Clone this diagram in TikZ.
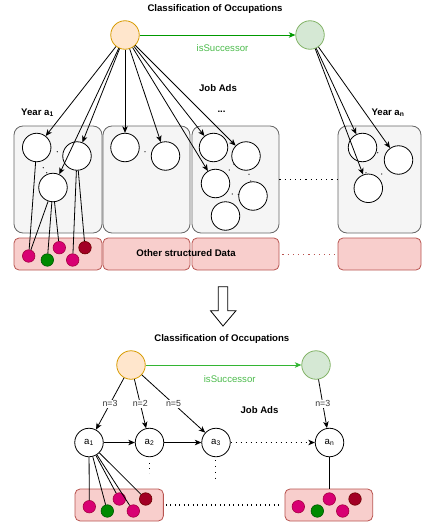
\documentclass[tikz,border=0pt]{standalone}
\usepackage{fontspec}
\setmainfont{Liberation Sans}
\usetikzlibrary{arrows.meta}
\definecolor{occfill}{HTML}{FFE6CC}
\definecolor{occdraw}{HTML}{D79B00}
\definecolor{sucfill}{HTML}{D5E8D4}
\definecolor{sucdraw}{HTML}{82B366}
\definecolor{gboxfill}{HTML}{F5F5F5}
\definecolor{gboxdraw}{HTML}{666666}
\definecolor{pboxfill}{HTML}{F8CECC}
\definecolor{pboxdraw}{HTML}{B85450}
\definecolor{magfill}{HTML}{D80073}
\definecolor{magdraw}{HTML}{A50040}
\definecolor{grnfill}{HTML}{008A00}
\definecolor{grndraw}{HTML}{005700}
\definecolor{drfill}{HTML}{A20025}
\definecolor{drdraw}{HTML}{6F0000}
\definecolor{arrowgreen}{HTML}{009900}
\definecolor{lightgreen}{HTML}{33B533}
\definecolor{textgreen}{HTML}{4CBB4C}
\definecolor{labelgray}{HTML}{333333}
\begin{document}
\begin{tikzpicture}[x=1pt,y=-1pt,
  font=\fontsize{9.6}{11}\selectfont,
  tip/.tip={Stealth[length=6.5pt,width=5.5pt,inset=1.8pt]},
  conn/.style={line width=0.8pt,draw=black},
  arr/.style={conn,-tip},
  occ/.style={circle,draw=occdraw,fill=occfill,line width=0.8pt,minimum size=28.5pt,inner sep=0pt},
  suc/.style={circle,draw=sucdraw,fill=sucfill,line width=0.8pt,minimum size=28.5pt,inner sep=0pt},
  ad/.style={circle,draw=black,fill=white,line width=0.8pt,minimum size=28.5pt,inner sep=0pt},
  gbox/.style={rectangle,rounded corners=9pt,draw=gboxdraw,fill=gboxfill,line width=0.8pt,minimum height=107pt,inner sep=0pt},
  pbox/.style={rectangle,rounded corners=5pt,draw=pboxdraw,fill=pboxfill,line width=0.8pt,minimum height=32pt,inner sep=0pt},
  dmag/.style={circle,draw=magdraw,fill=magfill,line width=0.6pt,minimum size=12.5pt,inner sep=0pt},
  dgrn/.style={circle,draw=grndraw,fill=grnfill,line width=0.6pt,minimum size=12.5pt,inner sep=0pt},
  ddr/.style={circle,draw=drdraw,fill=drfill,line width=0.6pt,minimum size=12.5pt,inner sep=0pt},
  bold/.style={font=\fontsize{9.6}{11}\selectfont\bfseries,inner sep=0pt},
  nlab/.style={midway,fill=white,inner sep=1pt,text=labelgray,font=\fontsize{8.8}{10}\selectfont},
  tinydot/.style={circle,fill=black,inner sep=0pt,minimum size=1.3pt},
  dotline/.style={line width=1.3pt,dash pattern=on 1.2pt off 4pt},
]
\useasboundingbox (0,0) rectangle (422,527);

% ---------------- top part ----------------
\node[bold] (t1) at (215,9) {Classification of Occupations};
\node[occ] (o1) at (125,35) {};
\node[suc] (g1) at (310,35) {};
\draw[line width=0.8pt,draw=arrowgreen,-{Stealth[length=6.5pt,width=5.5pt,inset=1.8pt,fill=arrowgreen]}] (o1) -- (g1);
\node[text=textgreen,inner sep=0pt] (s1) at (222.5,48.5) {isSuccessor};
\node[bold] (j1) at (218,88.5) {Job Ads};
\node[bold] (y1) at (37.5,112.5) {Year a\textsubscript{1}};
\node[bold] (yn) at (388,112.5) {Year a\textsubscript{n}};
\node[bold] (el) at (221.5,112) {...};

\node[gbox,minimum width=88pt] (b1) at (58,179.5) {};
\node[gbox,minimum width=87pt] (b2) at (146.5,179.5) {};
\node[gbox,minimum width=87pt] (b3) at (235.5,179.5) {};
\node[gbox,minimum width=83pt] (b4) at (379.5,179.5) {};

\node[pbox,minimum width=88pt] (r1) at (58,254) {};
\node[pbox,minimum width=87pt] (r2) at (146.5,254) {};
\node[pbox,minimum width=87pt] (r3) at (235.5,254) {};
\node[pbox,minimum width=83pt] (r4) at (379.5,254) {};
\node[bold] (osd) at (186,253.5) {Other structured Data};

\draw[dotline] (b3.east) -- (b4.west);
\draw[dotline,draw=pboxdraw,line width=1pt,shorten <=3pt,shorten >=3pt] (r3.east) -- (r4.west);

% job ad circles
\node[ad] (c1) at (36.7,147.5) {};
\node[ad] (c2) at (77,156) {};
\node[ad] (c3) at (53,187.5) {};
\node[ad] (e1) at (125,147.5) {};
\node[ad] (e2) at (165.5,156) {};
\node[ad] (d1) at (213.5,147.5) {};
\node[ad] (d2) at (246,156) {};
\node[ad] (d3) at (215.5,183.5) {};
\node[ad] (d4) at (253,196) {};
\node[ad] (d5) at (225.5,216) {};
\node[ad] (f1) at (362.5,147.5) {};
\node[ad] (f2) at (398.5,160) {};
\node[ad] (f3) at (368.3,188.3) {};

% tiny ellipsis dots
\foreach \p [count=\i] in {(57.3,151.7),(43.3,167.7),(46.7,172.7),(145,151.7),(234,164.3),(229.3,170),(249,174.3),(250.7,181),(232.3,194),(238.3,194.3),(377.7,152.7),(381.7,174),(366,172.7)}
  \node[tinydot] (td\i) at \p {};

% data circles top
\node[dmag] (m1) at (28.7,256) {};
\node[dgrn] (m2) at (47.3,260) {};
\node[dmag] (m3) at (59.3,247.7) {};
\node[dmag] (m4) at (72.7,260) {};
\node[ddr] (m5) at (85,247.7) {};

% arrows from classes
\foreach \t in {c1,c2,c3,e1,e2,d1,d2,d3} \draw[arr] (o1) -- (\t);
\foreach \t in {f1,f2,f3} \draw[arr] (g1) -- (\t);

% links to data
\draw[conn] (c1) -- (m1);
\draw[conn] (c3) -- (m1);
\draw[conn] (c3) -- (m2);
\draw[conn] (c3) -- (m3);
\draw[conn] (c2) -- (m4);
\draw[conn] (c2) -- (m5);

% ---------------- big arrow ----------------
\draw[line width=0.8pt,fill=white,line join=miter]
  (218.3,286.7) -- (227.7,286.7) -- (227.7,310.7) -- (236,310.7) -- (223,326)
  -- (210.5,310.7) -- (218.3,310.7) -- cycle;

% ---------------- bottom part ----------------
\node[bold] (t2) at (221.8,339) {Classification of Occupations};
\node[occ] (o2) at (131,365) {};
\node[suc] (g2) at (316,365) {};
\draw[line width=0.8pt,draw=lightgreen,-{Stealth[length=6.5pt,width=5.5pt,inset=1.8pt,fill=lightgreen]}] (o2) -- (g2);
\node[text=textgreen,inner sep=0pt] (s2) at (229.7,379) {isSuccessor};
\node[bold] (j2) at (259.5,410) {Job Ads};

\node[ad] (a1) at (89,442.5) {a\textsubscript{1}};
\node[ad] (a2) at (149.5,442.5) {a\textsubscript{2}};
\node[ad] (a3) at (216,442.5) {a\textsubscript{3}};
\node[ad] (an) at (329.5,442.5) {a\textsubscript{n}};

\draw[arr] (o2) -- node[nlab] {n=3} (a1);
\draw[arr] (o2) -- node[nlab] {n=2} (a2);
\draw[arr] (o2) -- node[nlab] {n=5} (a3);
\draw[arr] (g2) -- node[nlab] {n=3} (an);
\draw[arr] (a1) -- (a2);
\draw[arr] (a2) -- (a3);
\draw[conn,-tip,dash pattern=on 1.5pt off 3.5pt] (a3) -- (an);

\coordinate (v2a) at (149.3,463);
\coordinate (v2b) at (149.3,473);
\coordinate (v3a) at (215.3,460);
\coordinate (v3b) at (215.3,480);
\draw[dotline,line width=1.2pt,dash pattern=on 1.2pt off 3.8pt] (v2a) -- (v2b);
\draw[dotline,line width=1.2pt,dash pattern=on 1.2pt off 4.7pt] (v3a) -- (v3b);

\node[pbox,minimum width=88.3pt] (rl) at (119.2,505) {};
\node[pbox,minimum width=87.7pt] (rr) at (328.8,505) {};
\draw[dotline,line width=1.2pt,dash pattern=on 1.2pt off 3.3pt,shorten <=2pt,shorten >=2pt] (rl.east) -- (rr.west);

\node[dmag] (q1) at (89.3,506.7) {};
\node[dgrn] (q2) at (107.3,511) {};
\node[dmag] (q3) at (119.3,499) {};
\node[dmag] (q4) at (133.3,511) {};
\node[ddr] (q5) at (145.7,499) {};
\node[dmag] (w1) at (298.3,506.7) {};
\node[dgrn] (w2) at (317.3,511) {};
\node[dmag] (w3) at (329.3,499) {};
\node[dmag] (w4) at (342.7,511) {};
\node[ddr] (w5) at (355,499) {};

\foreach \t in {q1,q2,q3,q4,q5} \draw[conn] (a1) -- (\t);
\draw[conn] (an.south) -- (an.south |- rr.north);
\end{tikzpicture}
\end{document}
